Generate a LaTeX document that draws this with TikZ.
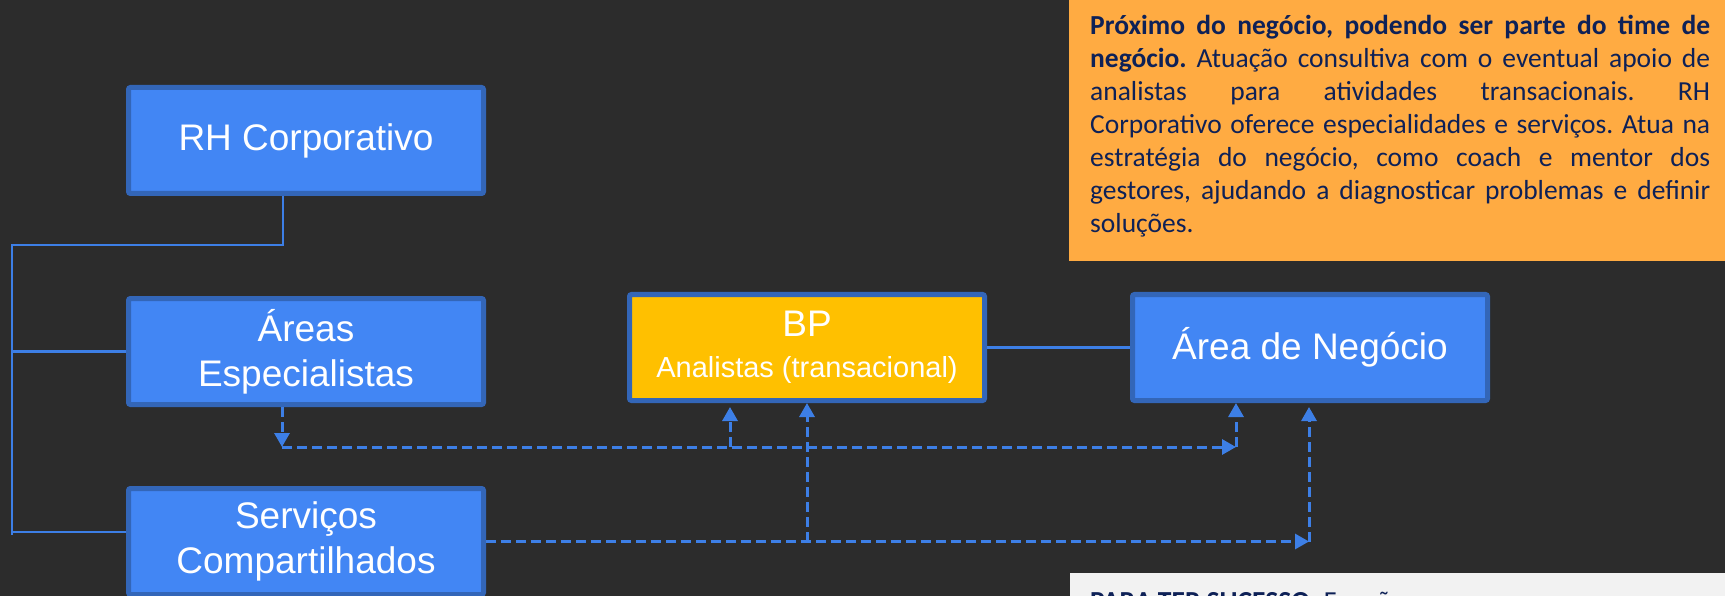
\documentclass[tikz,border=0pt]{standalone}
\usepackage{fontspec}
\setmainfont{Liberation Sans}
\newfontfamily\notefont{Carlito}
\usetikzlibrary{arrows.meta}
\frenchspacing

\definecolor{bgdark}{HTML}{2C2C2C}
\definecolor{boxblue}{HTML}{4286F4}
\definecolor{edgeblue}{HTML}{3366B8}
\definecolor{linkblue}{HTML}{3D7FE6}
\definecolor{bpyellow}{HTML}{FFC000}
\definecolor{noteorange}{HTML}{FFAB42}
\definecolor{notenavy}{HTML}{0E2157}
\definecolor{notewhite}{HTML}{F2F2F2}

\begin{document}
\begin{tikzpicture}[x=1pt,y=-1pt,
  unit/.style={draw=edgeblue, line width=5pt, fill=boxblue, rounded corners=2pt,
    minimum width=355pt, minimum height=106pt, inner sep=0pt, align=center,
    text=white, font=\fontsize{37}{45}\selectfont},
  bpbox/.style={unit, fill=bpyellow},
  link/.style={draw=linkblue, line width=2.5pt},
  flow/.style={draw=linkblue, line width=3pt, dash pattern=on 10pt off 5pt,
    -{Triangle[width=15pt,length=14pt,fill=linkblue]}},
  notetext/.style={anchor=base west, inner sep=0pt, text=notenavy,
    font=\notefont\fontsize{27.5}{33}\selectfont},
]
% canvas
\clip (0,0) rectangle (1725,596);
\fill[bgdark] (0,0) rectangle (1725,596);

% note panels
\fill[noteorange] (1069,0) rectangle (1725,261);
\fill[notewhite] (1070,573) rectangle (1725,640);

\node[notetext] (note) at (1090,35) {\parbox[t]{620pt}{\baselineskip=33pt\parindent=0pt
\makebox[\linewidth][s]{\bfseries Próximo do negócio, podendo ser parte do time de}\par
\makebox[\linewidth][s]{\textbf{negócio.} Atuação consultiva com o eventual apoio de}\par
\makebox[\linewidth][s]{analistas para atividades transacionais. RH}\par
\makebox[\linewidth][s]{Corporativo oferece especialidades e serviços. Atua na}\par
\makebox[\linewidth][s]{estratégia do negócio, como coach e mentor dos}\par
\makebox[\linewidth][s]{gestores, ajudando a diagnosticar problemas e definir}\par
soluções.}};

\node[notetext] (tip) at (1090,610) {\textbf{PARA TER SUCESSO:} Funções};

% units
\node[unit]  (rh)    at (306,140.5) {RH Corporativo};
\node[unit]  (areas) at (306,351.5) {Áreas\\Especialistas};
\node[unit]  (serv)  at (306,541.5) {Serviços\\Compartilhados};
\node[bpbox] (bp)    at (807,347.5) {BP\\[-4pt]{\fontsize{29}{35}\selectfont Analistas (transacional)}};
\node[unit]  (biz)   at (1310,347.5) {Área de Negócio};

% reporting lines
\coordinate (bustop) at (12,245);
\coordinate (busbot) at (12,535);
\draw[link] ([xshift=-23pt]rh.south) |- (bustop) -- (busbot);
\draw[link] (areas.west -| busbot) -- (areas.west);
\draw[link] ([yshift=9.5pt]serv.west -| busbot) -- ([yshift=9.5pt]serv.west);
\draw[link] (bp.east) -- (biz.west);

% support flows
\coordinate (f1a) at (282,447);
\coordinate (f1b) at (730,447);
\coordinate (f1c) at (1236,447);
\coordinate (f2b) at (807,541.5);
\coordinate (f2c) at (1309,541.5);

\draw[flow] (areas.south -| f1a) -- (f1a);
\draw[flow] (f1a) -- (f1c);
\draw[flow, shorten >=4pt] (f1b) -- (f1b |- bp.south);
\draw[flow] (f1c) -- (f1c |- biz.south);

\draw[flow] (serv.east) -- (f2c);
\draw[flow] (f2b) -- (bp.south);
\draw[flow, shorten >=4pt] (f2c) -- (f2c |- biz.south);
\end{tikzpicture}
\end{document}
